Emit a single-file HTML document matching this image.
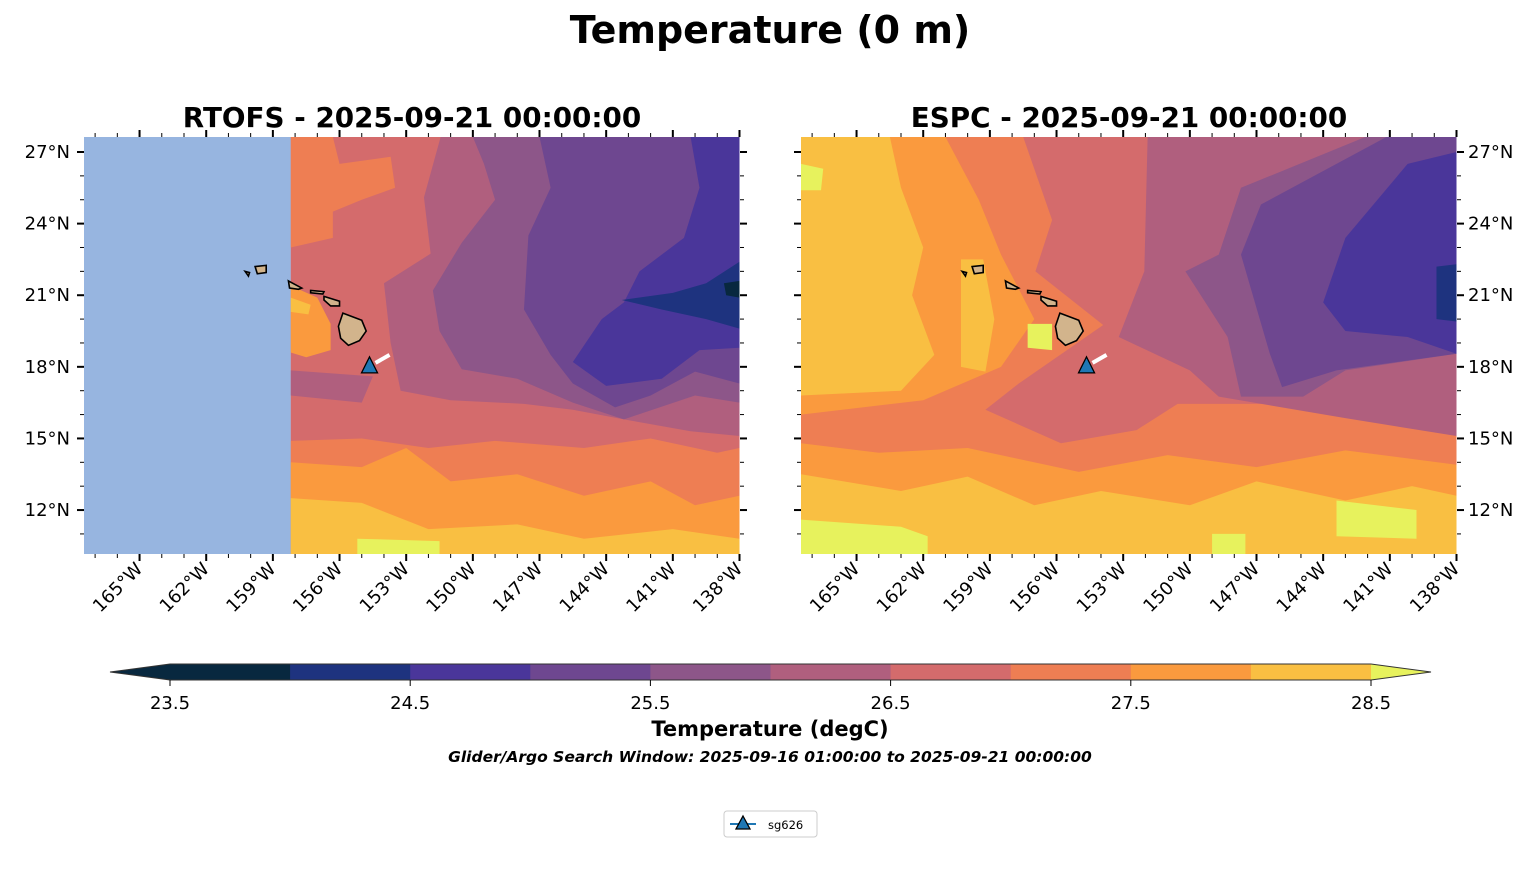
<!DOCTYPE html>
<html><head><meta charset="utf-8"><style>
body{margin:0;background:#fff;font-family:"Liberation Sans",sans-serif}
svg text{font-family:"DejaVu Sans","Liberation Sans",sans-serif}
</style></head><body>
<svg id="fig" width="1540" height="889" viewBox="0 0 1540 889" xmlns="http://www.w3.org/2000/svg">
<text x="770" y="43" text-anchor="middle" font-size="38" font-weight="bold">Temperature (0 m)</text>
<g id="maps"></g>
<g id="cbar"></g>
<text x="770" y="736" text-anchor="middle" font-size="21" font-weight="bold">Temperature (degC)</text>
<text x="770" y="762" text-anchor="middle" font-size="15.5" font-weight="bold" font-style="italic">Glider/Argo Search Window: 2025-09-16 01:00:00 to 2025-09-21 00:00:00</text>
<g>
<rect x="724" y="811" width="93" height="26" rx="3" fill="#fff" stroke="#ccc"/>
<line x1="730" y1="824" x2="756" y2="824" stroke="#1f77b4" stroke-width="2"/>
<polygon points="743,816 750,829 736,829" fill="#1f77b4" stroke="#000" stroke-width="1.3"/>
<text x="768" y="829" font-size="11.5">sg626</text>
</g>
</svg>
<script>
const levels=[23.5,24,24.5,25,25.5,26,26.5,27,27.5,28,28.5];
const colors=["#08283f","#1e337f","#4a369a","#6e4790","#8d5689","#b05f7e","#d46b6c","#ee7e53","#fa9a3e","#f9bf42"];
const overColor="#e7f25d", underColor="#08283f";
const cbTicks=[23.5,24.5,25.5,26.5,27.5,28.5];
const lonTicks=[165,162,159,156,153,150,147,144,141,138];
const latTicks=[12,15,18,21,24,27];
const panelTitles=["RTOFS - 2025-09-21 00:00:00","ESPC - 2025-09-21 00:00:00"];
const rtofsEdge=158.2;
// regions: [colorIndex, [[lonW,lat],...]]
const rtofsRegions=[
[5,[[158.2,27.63],[138,27.63],[138,10.16],[158.2,10.16]]],
[6,[[158.2,27.63],[151.45,27.63],[152.2,25.1],[151.9,22.74],[154,21.5],[153.7,19],[153.25,17],[151,16.6],[147.7,16.45],[145.5,16.2],[143.2,15.8],[140.2,15.3],[138,15.1],[138,10.16],[158.2,10.16]]],
[5,[[158.2,17.85],[154.5,17.6],[155,16.5],[158.2,16.8]]],
[7,[[158.2,27.63],[156.3,27.63],[156.0,26.5],[153.7,26.8],[153.5,25.5],[155,25],[156.3,24.5],[156.3,23.4],[158.2,23.0]]],
[7,[[158.2,14.9],[155,15.0],[152,14.6],[149,14.9],[145,14.6],[142,15.0],[139,14.4],[138,14.6],[138,10.16],[158.2,10.16]]],
[8,[[158.2,14.0],[155,13.8],[153,14.6],[151,13.2],[148,13.5],[145,12.6],[142,13.2],[140,12.2],[138,12.6],[138,10.16],[158.2,10.16]]],
[8,[[158.2,21.4],[157,20.9],[156.4,19.8],[156.4,18.7],[157.5,18.4],[158.2,18.6]]],
[9,[[158.2,12.5],[155,12.3],[152,11.2],[148,11.4],[145,10.8],[141,11.2],[138,10.8],[138,10.16],[158.2,10.16]]],
[9,[[158.2,20.9],[157.3,20.6],[157.4,20.2],[158.2,20.3]]],
[10,[[155.2,10.8],[151.5,10.7],[151.5,10.16],[155.2,10.16]]],
[4,[[150,27.63],[138,27.63],[138,16.5],[140,16.8],[143.2,15.8],[145.5,16.5],[148,17.5],[150.5,17.9],[151.5,19.5],[151.8,21.2],[150.5,23.2],[149,25],[149.5,26.5]]],
[3,[[147,27.63],[138,27.63],[138,17.3],[140,17.8],[142,16.8],[143.6,16.3],[145.5,17.3],[146.5,18.5],[147.7,20.4],[147.5,23.5],[146.5,25.5]]],
[2,[[140.2,27.63],[138,27.63],[138,18.8],[139.8,18.7],[141.5,17.5],[144,17.2],[145.5,18.2],[144.2,20.0],[143.2,20.7],[142.5,22],[140.5,23.4],[139.8,25.5]]],
[1,[[138,22.4],[139.5,21.5],[141,21.1],[143.3,20.8],[141.5,20.4],[139.5,20.0],[138,19.6]]],
[0,[[138.7,21.5],[138,21.6],[138,20.9],[138.6,21.0]]]
];
const espcRegions=[
[8,[[167.5,27.63],[138,27.63],[138,10.16],[167.5,10.16]]],
[9,[[167.5,27.63],[163.5,27.63],[163,25.5],[162,23],[162.5,21],[161.5,18.5],[163,17],[167.5,16.8]]],
[9,[[160.3,22.5],[159.3,22.5],[158.8,20],[159.2,17.8],[160.3,18]]],
[9,[[167.5,13.5],[163,12.8],[160,13.4],[157,12.2],[154,12.8],[150,12.2],[147,13.2],[143,12.4],[140,13.0],[138,12.6],[138,10.16],[167.5,10.16]]],
[7,[[161,27.63],[138,27.63],[138,13.9],[143,14.5],[147,13.8],[151,14.3],[155,13.6],[160,14.6],[164,14.4],[167.5,14.8],[167.5,16.0],[162,16.6],[158.5,18],[157,20],[158.5,22.7],[159.5,25]]],
[6,[[157.5,27.63],[138,27.63],[138,17.85],[143,17.15],[146.8,16.45],[150.55,16.45],[152.4,15.35],[155.8,14.8],[159.2,16.2],[157.7,17.3],[153.9,19.75],[156.95,22.0],[156.2,24.15]]],
[5,[[151.9,27.63],[138,27.63],[138,15.1],[143,15.85],[148.7,16.75],[150,17.85],[153.2,19.25],[152.05,22]]],
[4,[[142.1,27.63],[138,27.63],[138,18.55],[143,17.85],[144.9,16.75],[147.7,16.75],[148.3,19.25],[150.2,22.0],[148.7,22.7],[147.7,25.5]]],
[3,[[141.15,27.63],[138,27.63],[138,18.55],[143.4,17.85],[145.85,17.15],[146.4,18.55],[147.7,22.7],[146.8,24.8]]],
[2,[[138,27.0],[140.2,26.5],[143,23.4],[144,20.7],[143,19.5],[140.2,19.25],[138,18.55]]],
[1,[[138.9,22.2],[138,22.3],[138,19.9],[138.9,20.0]]],
[10,[[167.5,11.6],[163,11.3],[161.8,10.9],[161.8,10.16],[167.5,10.16]]],
[10,[[143.4,12.4],[139.8,12.0],[139.8,10.8],[143.4,10.9]]],
[10,[[149,11.0],[147.5,11.0],[147.5,10.16],[149,10.16]]],
[10,[[157.3,19.8],[156.2,19.8],[156.2,18.7],[157.3,18.8]]],
[10,[[167.5,26.5],[166.5,26.3],[166.6,25.4],[167.5,25.4]]]
];
const islands=[
[[155.85,20.25],[155.0,19.95],[154.8,19.5],[155.1,19.1],[155.6,18.9],[155.95,19.2],[156.05,19.7]],
[[156.7,20.95],[156.0,20.75],[156.0,20.55],[156.4,20.55],[156.7,20.8]],
[[157.3,21.2],[156.7,21.15],[156.75,21.05],[157.3,21.1]],
[[158.3,21.6],[157.7,21.3],[157.85,21.25],[158.25,21.3]],
[[159.8,22.2],[159.3,22.25],[159.3,21.95],[159.7,21.9]],
[[160.25,22.0],[160.05,21.95],[160.1,21.8]]
];
const glider=[[154.65,18.04],[153.75,18.5]];
const panels=[{x0:84,data:rtofsRegions,blank:true},{x0:801,data:espcRegions,blank:false}];
const W=656,H=417,Y0=137,LON0=167.5,LAT0=27.63;
const NS="http://www.w3.org/2000/svg";
function el(t,a,p){const e=document.createElementNS(NS,t);for(const k in a)e.setAttribute(k,a[k]);p.appendChild(e);return e;}
function px(x0,lon){return x0+(LON0-lon)*22.22;}
function py(lat){return 152+(27-lat)*23.87;}
const maps=document.getElementById('maps');
panels.forEach((p,pi)=>{
 const g=el('g',{},maps);
 
 
 const cid='clip'+pi;
 const cp=el('clipPath',{id:cid},g);el('rect',{x:p.x0,y:Y0,width:W,height:H},cp);
 const inner=el('g',{'clip-path':`url(#${cid})`},g);
 const sub=p.blank?el('g',{},inner):inner;
 if(p.blank){const cp2=el('clipPath',{id:'oc'},g);el('rect',{x:px(p.x0,rtofsEdge),y:Y0,width:W,height:H},cp2);sub.setAttribute('clip-path','url(#oc)');
  const r=el('rect',{x:p.x0,y:Y0,width:px(p.x0,rtofsEdge)-p.x0,height:H,fill:'#97b5e0'},inner);
  }
 p.data.forEach(([ci,pts])=>{
  const pg=el('polygon',{points:pts.map(q=>px(p.x0,q[0])+','+py(q[1])).join(' '),fill:ci>=colors.length?overColor:colors[ci],'stroke-linejoin':'round'},sub);
  
  
 });
 islands.forEach(is=>{
  const l=el('polygon',{points:is.map(q=>px(p.x0,q[0])+','+py(q[1])).join(' '),fill:'#d2b48c',stroke:'#000','stroke-width':1.6},inner);
  
  
 });
 el('line',{x1:px(p.x0,glider[0][0])+6,y1:py(glider[0][1])-3,x2:px(p.x0,glider[1][0]),y2:py(glider[1][1]),stroke:'#fff','stroke-width':4},inner);
 const gx=px(p.x0,glider[0][0]),gy=py(glider[0][1]);
 const tri=el('polygon',{points:`${gx},${gy-9} ${gx+8},${gy+7} ${gx-8},${gy+7}`,fill:'#1f77b4',stroke:'#000','stroke-width':1.3},g);
 
 
 for(let lon=167;lon>=138;lon--){const x=px(p.x0,lon);const M=lon%3===0;const L=M?7:4;const sw=M?2:1;
  el('line',{x1:x,y1:Y0+H,x2:x,y2:Y0+H+L,stroke:'#000','stroke-width':sw},g);
  el('line',{x1:x,y1:Y0,x2:x,y2:Y0-L,stroke:'#000','stroke-width':sw},g);}
 for(let lat=11;lat<=27;lat++){const y=py(lat);const M=lat%3===0;const L=M?7:4;const sw=M?2:1;
  el('line',{x1:p.x0,y1:y,x2:p.x0-L,y2:y,stroke:'#000','stroke-width':sw},g);
  el('line',{x1:p.x0+W,y1:y,x2:p.x0+W+L,y2:y,stroke:'#000','stroke-width':sw},g);}
 lonTicks.forEach(lon=>{const x=px(p.x0,lon);
  const t=el('text',{x:x+4,y:Y0+H+16,'font-size':18,'text-anchor':'end',transform:`rotate(-45 ${x+4} ${Y0+H+16})`},g);
  t.textContent=lon+'°W';
  
  });
 latTicks.forEach(lat=>{const y=py(lat)+6;
  const t=el('text',pi?{x:p.x0+W+11,y:y,'font-size':18}:{x:p.x0-14,y:y,'font-size':18,'text-anchor':'end'},g);
  t.textContent=lat+'°N';
  
  });
 const tt=el('text',{x:p.x0+W/2,y:127,'font-size':27.8,'font-weight':'bold','text-anchor':'middle'},g);
 tt.textContent=panelTitles[pi];
 
 
});
const cb=document.getElementById('cbar');
const CX0=170,CX1=1371,CY=664,CH=16;
function cx(v){return CX0+(v-levels[0])/(levels[levels.length-1]-levels[0])*(CX1-CX0);}
colors.forEach((c,i)=>{const r=el('rect',{x:cx(levels[i]),y:CY,width:cx(levels[i+1])-cx(levels[i])+0.5,height:CH,fill:c},cb);
 
 });
el('polygon',{points:`${CX0},${CY} ${CX0-60},${CY+CH/2} ${CX0},${CY+CH}`,fill:underColor},cb);
el('polygon',{points:`${CX1},${CY} ${CX1+60},${CY+CH/2} ${CX1},${CY+CH}`,fill:overColor},cb);
el('polygon',{points:`${CX0},${CY} ${CX1},${CY} ${CX1+60},${CY+CH/2} ${CX1},${CY+CH} ${CX0},${CY+CH} ${CX0-60},${CY+CH/2}`,fill:'none',stroke:'#333','stroke-width':1},cb);
cbTicks.forEach(v=>{const x=cx(v);el('line',{x1:x,y1:CY+CH,x2:x,y2:CY+CH+6,stroke:'#000'},cb);
 const t=el('text',{x:x,y:709,'font-size':18,'text-anchor':'middle'},cb);t.textContent=v.toFixed(1);
 
 });
</script>
</body></html>
